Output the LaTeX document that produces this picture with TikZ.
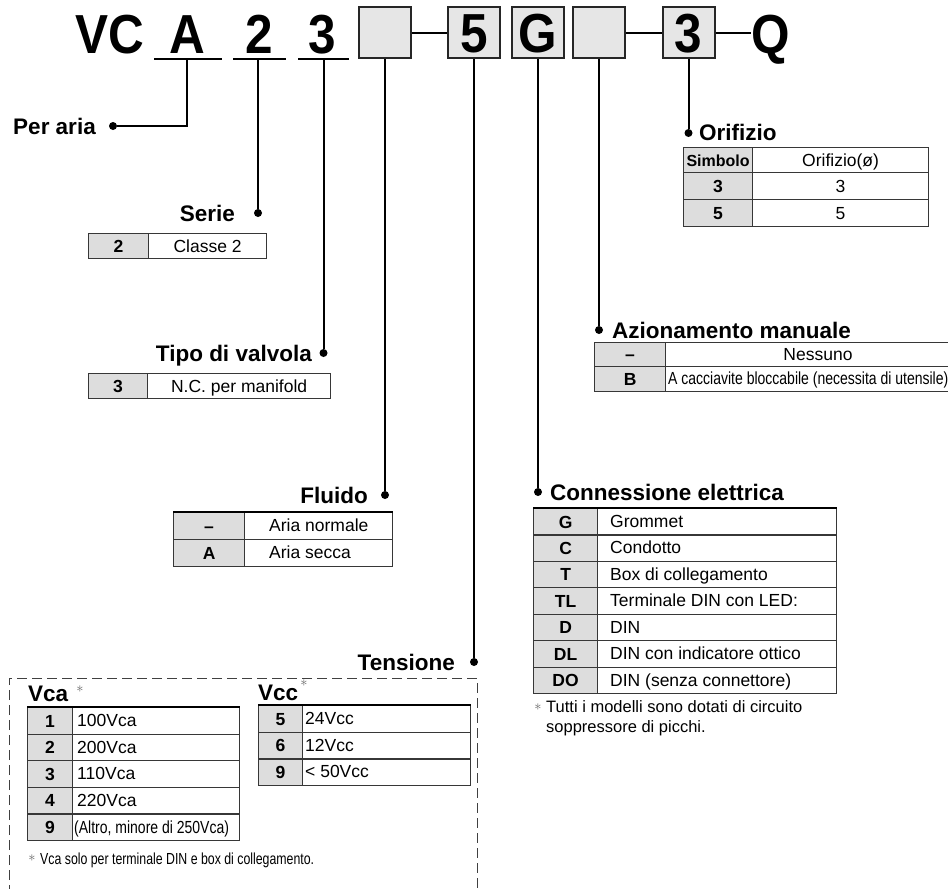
\documentclass[tikz,border=0pt]{standalone}
\usepackage{fontspec}
\setmainfont{Liberation Sans}
\newfontface\hdrface[FakeStretch=0.9]{Liberation Sans Bold}
\newfontface\narrowface[FakeStretch=0.8]{Liberation Sans}
\newfontface\footface[FakeStretch=0.77]{Liberation Sans}
\definecolor{keygray}{RGB}{221,221,221}
\definecolor{boxgray}{RGB}{230,230,230}
\definecolor{rulegray}{RGB}{55,55,55}
\tikzset{
  lead/.style={line width=2pt, draw=black},
  dotmark/.style={circle, fill=black, draw=none, inner sep=0pt, minimum size=8pt},
  hbox/.style={draw=black!85, line width=2pt, fill=boxgray, minimum width=52pt,
    minimum height=51pt, inner sep=0pt, text height=39pt, text depth=0pt,
    font=\hdrface\fontsize{55}{60}\selectfont},
  hletter/.style={inner sep=0pt, anchor=base, font=\hdrface\fontsize{55}{60}\selectfont},
  heading/.style={inner sep=0pt, font=\fontsize{22.5}{26}\selectfont\bfseries},
  cell/.style={draw=rulegray, line width=1.2pt, inner sep=0pt, anchor=north west,
    text height=12.5pt, text depth=0pt},
  keycell/.style={cell, fill=keygray, font=\fontsize{17.5}{20}\selectfont\bfseries},
  valcell/.style={cell, fill=white, font=\fontsize{17.5}{20}\selectfont},
  valtext/.style={inner sep=0pt, anchor=base west, font=\fontsize{17.5}{20}\selectfont},
  toprule/.style={line width=2.2pt, draw=black},
  dashbox/.style={draw=black!75, line width=1pt, dash pattern=on 10pt off 5pt},
  note/.style={inner sep=0pt, anchor=base west, font=\fontsize{16.5}{19}\selectfont},
  star/.style={inner sep=0pt, text=black!60, font=\fontsize{15}{15}\selectfont},
}
\begin{document}
\begin{tikzpicture}[x=1pt, y=-1pt]
\fill[white] (0,0) rectangle (948,889);
\useasboundingbox (0,0) rectangle (948,889);

% ---------- model code ----------
\node[hletter, anchor=base west] (vc) at (75.5,53) {VC};
\node[hletter] (cA) at (187,53) {A};
\node[hletter] (c2) at (259.5,53) {2};
\node[hletter] (c3) at (322.5,53) {3};
\node[hbox] (kx1) at (385,32.5) {};
\node[hbox] (k5) at (474,32.5) {5};
\node[hbox] (kG) at (538,32.5) {G};
\node[hbox] (kx2) at (599,32.5) {};
\node[hbox] (k3) at (688.5,32.5) {3};
\node[hletter, anchor=base west] (q) at (751,53) {Q};

\draw[lead] (kx1.east) -- (k5.west);
\draw[lead] (kx2.east) -- (k3.west);
\draw[lead] (k3.east) -- (k3.east -| q.west);

% underlines of the fixed characters
\coordinate (ulA-l) at (154,59);  \coordinate (ulA-r) at (222,59);  \coordinate (ulA) at (187,59);
\coordinate (ul2-l) at (233,59);  \coordinate (ul2-r) at (286,59);  \coordinate (ul2) at (258,59);
\coordinate (ul3-l) at (298,59);  \coordinate (ul3-r) at (349,59);  \coordinate (ul3) at (323.5,59);
\draw[lead] (ulA-l) -- (ulA-r);
\draw[lead] (ul2-l) -- (ul2-r);
\draw[lead] (ul3-l) -- (ul3-r);

% ---------- leader dots ----------
\node[dotmark] (dAria) at (113,126) {};
\node[dotmark] (dSerie) at (258,213) {};
\node[dotmark] (dTipo) at (323.5,353) {};
\node[dotmark] (dFluido) at (385,495) {};
\node[dotmark] (dTens) at (474,662) {};
\node[dotmark] (dConn) at (538,492) {};
\node[dotmark] (dAzion) at (599,330) {};
\node[dotmark] (dOrif) at (688.5,133) {};

\draw[lead] (ulA) |- (dAria);
\draw[lead] (ul2) -- (dSerie);
\draw[lead] (ul3) -- (dTipo);
\draw[lead] (kx1.south) -- (dFluido);
\draw[lead] (k5.south) -- (dTens);
\draw[lead] (kG.south) -- (dConn);
\draw[lead] (kx2.south) -- (dAzion);
\draw[lead] (k3.south) -- (dOrif);

% ---------- headings ----------
\node[heading, anchor=base east] (hAria) at (96,134) {Per aria};
\node[heading, anchor=base east] (hSerie) at (235,221) {Serie};
\node[heading, anchor=base east] (hTipo) at (312,361) {Tipo di valvola};
\node[heading, anchor=base east] (hFluido) at (368,503) {Fluido};
\node[heading, anchor=base east] (hTens) at (455,670) {Tensione};
\node[heading, anchor=base west] (hOrif) at (699,140) {Orifizio};
\node[heading, anchor=base west] (hAzion) at (612,338) {Azionamento manuale};
\node[heading, anchor=base west] (hConn) at (550,500) {Connessione elettrica};

% ---------- Serie ----------
\node[keycell, minimum width=60, minimum height=25] (se-k) at (88,233) {2};
\node[valcell, minimum width=118, minimum height=25] (se-v) at (148,233) {Classe 2};

% ---------- Tipo di valvola ----------
\node[keycell, minimum width=59, minimum height=25] (tv-k) at (88,373) {3};
\node[valcell, minimum width=183, minimum height=25] (tv-v) at (147,373) {N.C. per manifold};

% ---------- Fluido ----------
\foreach \k/\v [count=\i from 0] in {\textendash/Aria normale, A/Aria secca} {
  \node[keycell, minimum width=71, minimum height=27] (fl-k\i) at (173,{512+27*\i}) {\k};
  \node[valcell, minimum width=148, minimum height=27] (fl-v\i) at (244,{512+27*\i}) {};
  \node[valtext] (fl-t\i) at (269,{512+27*\i+19.8}) {\v};
}
\draw[toprule] (fl-k0.north west) -- (fl-v0.north east);

% ---------- Orifizio ----------
\node[keycell, minimum width=69, minimum height=25, font=\fontsize{16}{18}\selectfont\bfseries] (or-hk) at (683,147) {Simbolo};
\node[valcell, minimum width=176, minimum height=25] (or-hv) at (752,147) {Orifizio(ø)};
\node[keycell, minimum width=69, minimum height=27] (or-k1) at (683,172) {3};
\node[valcell, minimum width=176, minimum height=27] (or-v1) at (752,172) {3};
\node[keycell, minimum width=69, minimum height=27] (or-k2) at (683,199) {5};
\node[valcell, minimum width=176, minimum height=27] (or-v2) at (752,199) {5};

% ---------- Azionamento manuale ----------
\node[keycell, minimum width=71, minimum height=24] (az-k1) at (594,342) {\textendash};
\node[valcell, minimum width=284, minimum height=24] (az-v1) at (665,342) {};
\node[valtext, anchor=base] (az-t1) at (818,360.3) {Nessuno};
\node[keycell, minimum width=71, minimum height=25] (az-k2) at (594,366) {B};
\node[valcell, minimum width=284, minimum height=25] (az-v2) at (665,366) {};
\node[valtext, font=\narrowface\fontsize{17.5}{20}\selectfont] (az-t2) at (668,384.8) {A cacciavite bloccabile (necessita di utensile)};

% ---------- Connessione elettrica ----------
\foreach \k/\v [count=\i from 0] in {G/Grommet, C/Condotto, T/Box di collegamento,
    TL/Terminale DIN con LED:, D/DIN, DL/DIN con indicatore ottico, DO/DIN (senza connettore)} {
  \node[keycell, minimum width=64, minimum height=26.43] (ce-k\i) at (533,{508+26.43*\i}) {\k};
  \node[valcell, minimum width=239, minimum height=26.43] (ce-v\i) at (597,{508+26.43*\i}) {};
  \node[valtext] (ce-t\i) at (610,{508+26.43*\i+19.5}) {\v};
}
\draw[toprule] (ce-k0.north west) -- (ce-v0.north east);
\node[star] (ce-s) at (538,707) {$\ast$};
\node[note] (ce-n1) at (546,712.5) {Tutti i modelli sono dotati di circuito};
\node[note] (ce-n2) at (546,732) {soppressore di picchi.};

% ---------- Tensione ----------
\draw[dashbox] (9,895) -- (9,678) -- (477,678) -- (477,895);

\node[heading, anchor=base west] (vca) at (28,701) {Vca};
\node[star] (vca-s) at (80,689) {$\ast$};
\foreach \k/\v [count=\i from 0] in {1/100Vca, 2/200Vca, 3/110Vca, 4/220Vca} {
  \node[keycell, minimum width=45, minimum height=26.6] (ca-k\i) at (27,{707+26.6*\i}) {\k};
  \node[valcell, minimum width=167, minimum height=26.6] (ca-v\i) at (72,{707+26.6*\i}) {};
  \node[valtext] (ca-t\i) at (77,{707+26.6*\i+19.6}) {\v};
}
\node[keycell, minimum width=45, minimum height=26.6] (ca-k4) at (27,813.4) {9};
\node[valcell, minimum width=167, minimum height=26.6] (ca-v4) at (72,813.4) {};
\node[valtext, font=\narrowface\fontsize{17.5}{20}\selectfont] (ca-t4) at (74,833) {(Altro, minore di 250Vca)};
\draw[toprule] (ca-k0.north west) -- (ca-v0.north east);

\node[heading, anchor=base west] (vcc) at (258,700) {Vcc};
\node[star] (vcc-s) at (304,683) {$\ast$};
\foreach \k/\v [count=\i from 0] in {5/24Vcc, 6/12Vcc, 9/< 50Vcc} {
  \node[keycell, minimum width=44, minimum height=26.67] (cc-k\i) at (258,{705+26.67*\i}) {\k};
  \node[valcell, minimum width=168, minimum height=26.67] (cc-v\i) at (302,{705+26.67*\i}) {};
  \node[valtext] (cc-t\i) at (305,{705+26.67*\i+19.6}) {\v};
}
\draw[toprule] (cc-k0.north west) -- (cc-v0.north east);

\node[star] (ca-ns) at (32,858) {$\ast$};
\node[note, font=\footface\fontsize{16}{18}\selectfont] (ca-n) at (40,864) {Vca solo per terminale DIN e box di collegamento.};
\end{tikzpicture}
\end{document}
